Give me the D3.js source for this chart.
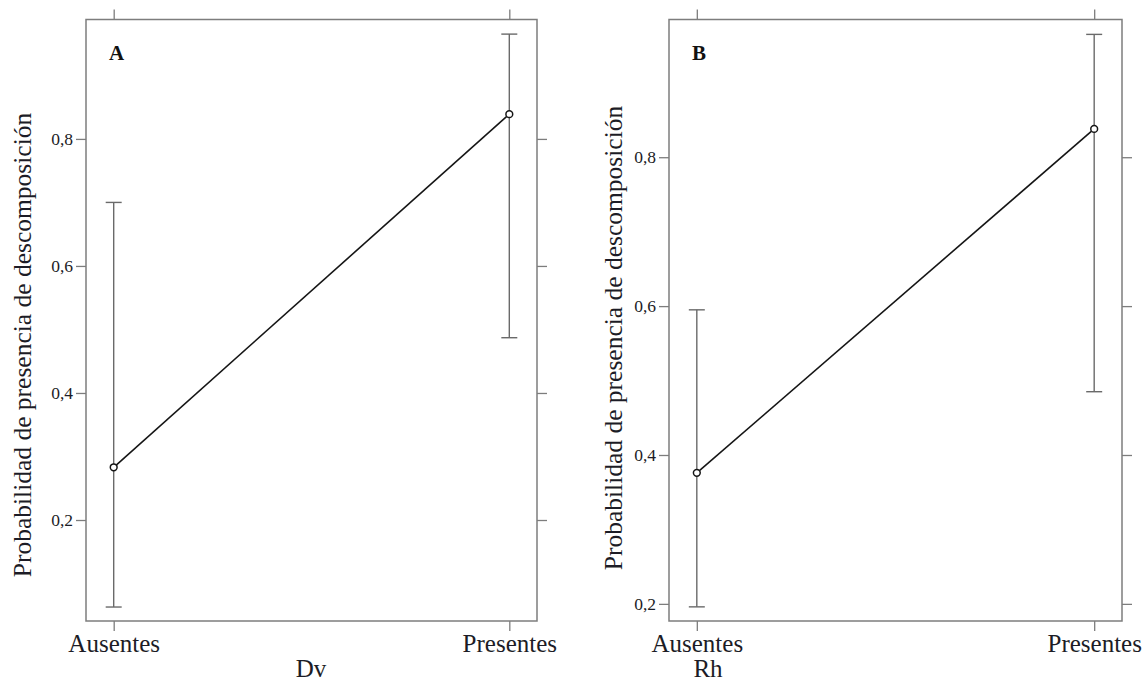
<!DOCTYPE html>
<html>
<head>
<meta charset="utf-8">
<script src="https://cdn.jsdelivr.net/npm/d3@7"></script>
<style>
  body { margin: 0; background: #fff; }
  text { font-family: "Liberation Serif", "Times New Roman", serif; }
</style>
</head>
<body>
<div id="container"></div>
<script>
/* DATA */
const categories = ["Ausentes", "Presentes"];
const yTicks = [0.2, 0.4, 0.6, 0.8];

// panel A (Dv)
const meanA = [0.283, 0.839];
const lowA = [0.063, 0.487];
const highA = [0.700, 0.965];

// panel B (Rh)
const meanB = [0.376, 0.838];
const lowB = [0.196, 0.485];
const highB = [0.595, 0.965];

/* CONSTANTS */
const width = 1145, height = 683;
const frameCol = "#7d7d7d", textCol = "#1c1c26";
const frameTop = 19.5, frameBottom = 621;

const svg = d3.select("#container")
  .append("svg")
  .attr("width", width)
  .attr("height", height);

const panels = [
  { letter: "A", title: "Dv", mean: meanA, low: lowA, high: highA,
    x0: 86, x1: 537, yDomain: [0.041, 0.988], labelX: 31, labelY: 345, titleX: 311 },
  { letter: "B", title: "Rh", mean: meanB, low: lowB, high: highB,
    x0: 669, x1: 1122, yDomain: [0.177, 0.985], labelX: 622, labelY: 338, titleX: 708 }
];

const fmt = d => d3.format(".1f")(d).replace(".", ",");

panels.forEach(p => {
  const xScale = d3.scalePoint()
    .domain(categories)
    .range([p.x0, p.x1])
    .padding(0.07);

  const yScale = d3.scaleLinear()
    .domain(p.yDomain)
    .range([frameBottom, frameTop]);

  const g = svg.append("g");

  // axes
  const styleAxis = sel => {
    sel.attr("font-family", null);
    sel.select(".domain").remove();
    sel.selectAll(".tick line").attr("stroke", frameCol).attr("stroke-width", 1.3);
    sel.selectAll(".tick text").attr("fill", textCol);
  };

  g.append("g")
    .attr("transform", `translate(${p.x0},0)`)
    .call(d3.axisLeft(yScale).tickValues(yTicks).tickSize(10).tickPadding(3).tickFormat(fmt))
    .call(styleAxis)
    .selectAll(".tick text").style("font-size", "17.5px");

  g.append("g")
    .attr("transform", `translate(${p.x1},0)`)
    .call(d3.axisRight(yScale).tickValues(yTicks).tickSize(10).tickFormat(""))
    .call(styleAxis);

  g.append("g")
    .attr("transform", `translate(0,${frameTop})`)
    .call(d3.axisTop(xScale).tickSize(10).tickFormat(""))
    .call(styleAxis);

  g.append("g")
    .attr("transform", `translate(0,${frameBottom})`)
    .call(d3.axisBottom(xScale).tickSize(10).tickPadding(3))
    .call(styleAxis)
    .selectAll(".tick text").style("font-size", "25px");

  // frame
  g.append("rect")
    .attr("x", p.x0).attr("y", frameTop)
    .attr("width", p.x1 - p.x0).attr("height", frameBottom - frameTop)
    .attr("fill", "none")
    .attr("stroke", frameCol)
    .attr("stroke-width", 1.5);

  const rows = categories.map((c, i) => ({ cat: c, mean: p.mean[i], low: p.low[i], high: p.high[i] }));

  // error bars
  g.selectAll(".err")
    .data(rows)
    .join("line")
    .attr("class", "err")
    .attr("x1", d => xScale(d.cat)).attr("x2", d => xScale(d.cat))
    .attr("y1", d => yScale(d.low)).attr("y2", d => yScale(d.high))
    .attr("stroke", "#6a6a6a").attr("stroke-width", 1.4);

  ["low", "high"].forEach(k => {
    g.selectAll(".cap-" + k)
      .data(rows)
      .join("line")
      .attr("class", "cap-" + k)
      .attr("x1", d => xScale(d.cat) - 8).attr("x2", d => xScale(d.cat) + 8)
      .attr("y1", d => yScale(d[k])).attr("y2", d => yScale(d[k]))
      .attr("stroke", "#6a6a6a").attr("stroke-width", 1.4);
  });

  // mean line
  g.append("path")
    .datum(rows)
    .attr("fill", "none")
    .attr("stroke", "#151515")
    .attr("stroke-width", 1.6)
    .attr("d", d3.line().x(d => xScale(d.cat)).y(d => yScale(d.mean)));

  g.selectAll(".pt")
    .data(rows)
    .join("circle")
    .attr("class", "pt")
    .attr("cx", d => xScale(d.cat))
    .attr("cy", d => yScale(d.mean))
    .attr("r", 3.4)
    .attr("fill", "#fff")
    .attr("stroke", "#151515")
    .attr("stroke-width", 1.5);

  // panel letter
  g.append("text")
    .attr("x", p.x0 + 23).attr("y", 60)
    .attr("font-size", "21px")
    .attr("font-weight", "bold")
    .attr("fill", "#111")
    .text(p.letter);

  // y title
  g.append("text")
    .attr("transform", `translate(${p.labelX},${p.labelY}) rotate(-90)`)
    .attr("text-anchor", "middle")
    .attr("font-size", "25.5px")
    .attr("fill", textCol)
    .text("Probabilidad de presencia de descomposición");

  // x title
  g.append("text")
    .attr("x", p.titleX).attr("y", 677)
    .attr("text-anchor", "middle")
    .attr("font-size", "25px")
    .attr("fill", textCol)
    .text(p.title);
});
</script>
</body>
</html>
